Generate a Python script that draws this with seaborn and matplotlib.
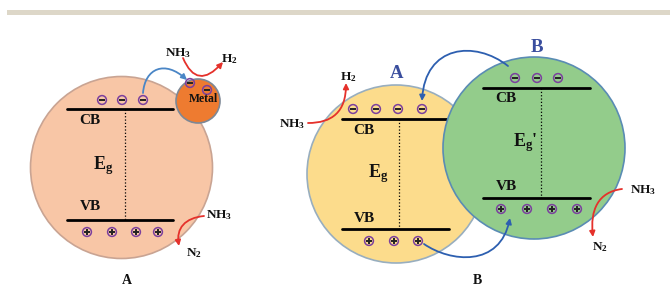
import numpy as np
import pandas as pd
import matplotlib
matplotlib.use("Agg")
import matplotlib.pyplot as plt
import seaborn as sns
from matplotlib.patches import Circle, Rectangle, FancyArrowPatch
from matplotlib.path import Path

sns.set_theme(style="white")
plt.rcParams.update({
    "font.family": ["Liberation Serif", "DejaVu Serif"],
    "font.weight": "bold",
    "mathtext.fontset": "custom",
    "mathtext.rm": "Liberation Serif:bold",
    "mathtext.it": "Liberation Serif:bold",
    "mathtext.bf": "Liberation Serif:bold",
    "mathtext.default": "rm",
})

# particles: (cx, cy, r, face, edge)
particles = {
    "A":      (121.5, 167.5, 91, "#f8c6a6", "#c9a493"),
    "Metal":  (198, 101, 22, "#ee7b30", "#7d8896"),
    "A_het":  (396, 174, 89, "#fcdc8c", "#98aebf"),
    "B_het":  (534, 148, 91, "#93cc8b", "#5a8cb4"),
}

# band edges: x0, x1, y_CB, y_VB, x_dotted
bands = {
    "A":     (67, 173, 109, 220, 125),
    "A_het": (342, 449, 119, 229, 399),
    "B_het": (483, 590, 88, 198, 541),
}

# charge carriers
elec_x = [102, 122, 143, 190, 207, 353, 376, 398, 422, 515, 537, 558]
elec_y = [100, 100, 100, 83, 90, 109, 109, 109, 109, 78, 78, 78]
hole_x = [87, 112, 136, 158, 369, 394, 418, 501, 527, 552, 577]
hole_y = [232, 232, 232, 232, 241, 241, 241, 209, 209, 209, 209]

fig = plt.figure(figsize=(6.7, 2.88), dpi=100)
ax = fig.add_axes([0, 0, 1, 1])
ax.set_xlim(0, 670)
ax.set_ylim(288, 0)
ax.axis("off")

ax.add_patch(Rectangle((7, 10), 663, 5, color="#ddd7c8", lw=0))

for key in ["A", "Metal", "A_het"]:
    cx, cy, r, fc, ec = particles[key]
    ax.add_patch(Circle((cx, cy), r, facecolor=fc, edgecolor=ec, lw=1.2, zorder=1))

def draw_bands(key, zo):
    x0, x1, ycb, yvb, xd = bands[key]
    sns.lineplot(x=[x0, x1], y=[ycb, ycb], color="black", lw=2, ax=ax, zorder=zo)
    sns.lineplot(x=[x0, x1], y=[yvb, yvb], color="black", lw=2, ax=ax, zorder=zo)
    ax.plot([xd, xd], [ycb, yvb], color="black", lw=0.9, ls=":", zorder=zo)

draw_bands("A", 3)
draw_bands("A_het", 2)

cx, cy, r, fc, ec = particles["B_het"]
ax.add_patch(Circle((cx, cy), r, facecolor=fc, edgecolor=ec, lw=1.2, zorder=4))
draw_bands("B_het", 5)

# carriers
carriers = pd.DataFrame({
    "x": elec_x + hole_x,
    "y": elec_y + hole_y,
    "kind": ["e"] * len(elec_x) + ["h"] * len(hole_x),
})
sns.scatterplot(data=carriers, x="x", y="y", s=40, facecolor="none",
                edgecolor="#7b3f9e", linewidth=1.1, ax=ax, zorder=6, legend=False)
sns.scatterplot(data=carriers[carriers.kind == "e"], x="x", y="y", marker="_",
                s=14, color="#222222", linewidth=1.4, ax=ax, zorder=7, legend=False)
sns.scatterplot(data=carriers[carriers.kind == "h"], x="x", y="y", marker="+",
                s=14, color="#222222", linewidth=1.4, ax=ax, zorder=7, legend=False)
ax.set_xlim(0, 670)
ax.set_ylim(288, 0)
ax.set_xlabel("")
ax.set_ylabel("")

def curve(pts, color, lw=1.3):
    codes = [Path.MOVETO] + [Path.CURVE4] * (len(pts) - 1)
    if len(pts) == 3:
        codes = [Path.MOVETO, Path.CURVE3, Path.CURVE3]
    p = FancyArrowPatch(path=Path(pts, codes), arrowstyle="-|>", mutation_scale=8,
                        color=color, lw=lw, zorder=8)
    ax.add_patch(p)

red = "#e5312b"
curve([(183, 58), (197, 91), (223, 62)], red)
curve([(204, 216), (185, 218), (176, 228), (179, 246)], red)
curve([(308, 123), (332, 123), (346, 112), (346, 83)], red)
curve([(622, 189), (598, 192), (590, 210), (593, 237)], red)
curve([(143, 93), (145, 68), (165, 60), (187, 80)], "#4a86c6")
curve([(508, 66), (475, 40), (425, 45), (422, 101)], "#2d5fb0")
curve([(424, 244), (450, 262), (500, 268), (510, 218)], "#2d5fb0")

# labels
tx = dict(ha="center", va="center", color="#111111", fontweight="bold")
for (x, y, s) in [(90, 120, "CB"), (90, 207, "VB"), (364, 130, "CB"), (364, 219, "VB"),
                  (506, 99, "CB"), (506, 187, "VB")]:
    ax.text(x, y, s, fontsize=11, zorder=9, **tx)
ax.text(103, 166, r"E$_{g}$", fontsize=13, zorder=9, **tx)
ax.text(378, 174, r"E$_{g}$", fontsize=13, zorder=9, **tx)
ax.text(525, 143, r"E$_{g}$'", fontsize=13, zorder=9, **tx)
ax.text(203, 99, "Metal", fontsize=8.5, zorder=9, **tx)

for (x, y, s) in [(178, 53, r"NH$_3$"), (229, 59, r"H$_2$"), (219, 215, r"NH$_3$"),
                  (194, 253, r"N$_2$"), (292, 124, r"NH$_3$"), (348, 77, r"H$_2$"),
                  (643, 190, r"NH$_3$"), (600, 247, r"N$_2$")]:
    ax.text(x, y, s, fontsize=9.5, zorder=9, **tx)

blue = "#3a4e9e"
ax.text(397, 74, "A", fontsize=13.5, ha="center", va="center", color=blue, fontweight="bold")
ax.text(537, 48, "B", fontsize=13.5, ha="center", va="center", color=blue, fontweight="bold")
ax.text(127, 281, "A", fontsize=10, **tx)
ax.text(477, 281, "B", fontsize=10, **tx)

fig.savefig("out.png", dpi=100)
